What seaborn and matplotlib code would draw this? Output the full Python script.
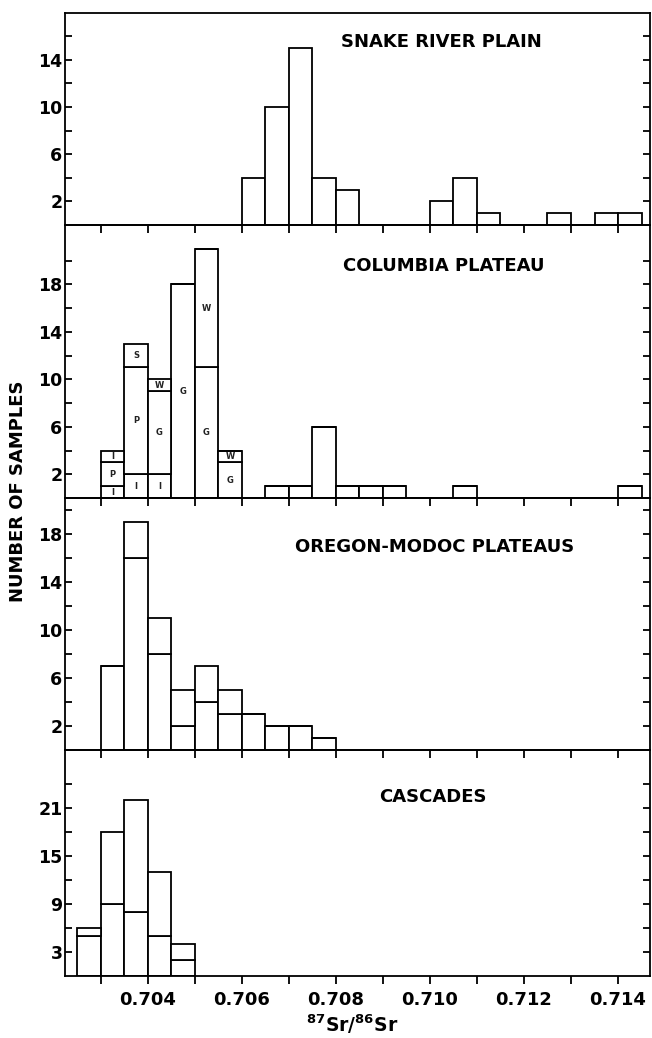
import numpy as np
import pandas as pd
import matplotlib
matplotlib.use("Agg")
import matplotlib.pyplot as plt
import seaborn as sns
from matplotlib.ticker import FixedLocator, NullFormatter, FixedFormatter

sns.set_theme(style="white")
plt.rcParams["font.family"] = ["DejaVu Sans"]
plt.rcParams["font.weight"] = "bold"
plt.rcParams["mathtext.fontset"] = "dejavusans"
plt.rcParams["text.color"] = "black"

BIN = 0.0005

# ---- Snake River Plain ----
snake_bins = [0.7060, 0.7065, 0.7070, 0.7075, 0.7080, 0.7100, 0.7105, 0.7110,
              0.7125, 0.7135, 0.7140]
snake_counts = [4, 10, 15, 4, 3, 2, 4, 1, 1, 1, 1]

# ---- Columbia Plateau (stacked by basalt unit) ----
col_bins = [0.7030, 0.7035, 0.7040, 0.7045, 0.7050, 0.7055, 0.7065, 0.7070,
            0.7075, 0.7080, 0.7085, 0.7090, 0.7105, 0.7140]
col_lower = [1, 2, 2, 18, 11, 3, 1, 1, 6, 1, 1, 1, 1, 1]
col_middle = [2, 9, 7, 0, 10, 1, 0, 0, 0, 0, 0, 0, 0, 0]
col_upper = [1, 2, 1, 0, 0, 0, 0, 0, 0, 0, 0, 0, 0, 0]
col_lower_unit = ["I", "I", "I", "G", "G", "G", "", "", "", "", "", "", "", ""]
col_middle_unit = ["P", "P", "G", "", "W", "W", "", "", "", "", "", "", "", ""]
col_upper_unit = ["I", "S", "W", "", "", "", "", "", "", "", "", "", "", ""]

# ---- Oregon-Modoc Plateaus ----
ore_bins = [0.7030, 0.7035, 0.7040, 0.7045, 0.7050, 0.7055, 0.7060, 0.7065,
            0.7070, 0.7075]
ore_lower = [7, 16, 8, 2, 4, 3, 3, 2, 2, 1]
ore_upper = [0, 3, 3, 3, 3, 2, 0, 0, 0, 0]

# ---- Cascades ----
cas_bins = [0.7025, 0.7030, 0.7035, 0.7040, 0.7045]
cas_lower = [5, 9, 8, 5, 2]
cas_upper = [1, 9, 14, 8, 2]

panel_titles = ["SNAKE RIVER PLAIN", "COLUMBIA PLATEAU",
                "OREGON-MODOC PLATEAUS", "CASCADES"]
x_ticks = [0.703, 0.704, 0.705, 0.706, 0.707, 0.708, 0.709, 0.710, 0.711,
           0.712, 0.713, 0.714]
x_ticklabels = ["", "0.704", "", "0.706", "", "0.708", "", "0.710", "",
                "0.712", "", "0.714"]

LW = 1.3
W, H = 652, 1038
fig = plt.figure(figsize=(W / 100, H / 100), dpi=100)
fig.patch.set_facecolor("white")

left_px, right_px = 64.5, 650.0
panel_px = [(12.7, 225.0), (225.0, 498.0), (498.0, 750.0), (750.0, 976.0)]
ylims = [18, 23, 21, 28.3]
xlim = (0.70223, 0.71468)


def make_ax(top, bottom):
    ax = fig.add_axes([left_px / W, 1 - bottom / H,
                       (right_px - left_px) / W, (bottom - top) / H])
    ax.patch.set_alpha(0)
    return ax


def stacked(ax, bins, layers):
    """Draw a stacked count histogram; layers listed bottom-to-top."""
    centers = np.round(np.array(bins) + BIN / 2, 6)
    frames = [pd.DataFrame({"sr": centers, "n": np.asarray(cnt, float),
                            "layer": name})
              for name, cnt in layers]
    df = pd.concat(frames, ignore_index=True)
    df = df[df["n"] > 0].reset_index(drop=True)
    lo, hi = min(bins), max(bins) + BIN
    order = [name for name, _ in layers][::-1]
    order = [o for o in order if o in set(df["layer"])]
    kws = dict(data=df, x="sr", weights="n", binwidth=BIN, binrange=(lo, hi),
               ax=ax, legend=False, alpha=1, edgecolor="black", linewidth=LW)
    if len(order) > 1:
        sns.histplot(hue="layer", hue_order=order, multiple="stack",
                     palette=["white"] * len(order), **kws)
    else:
        sns.histplot(color="white", **kws)


axes = [make_ax(t, b) for t, b in panel_px]

stacked(axes[0], snake_bins, [("all", snake_counts)])
stacked(axes[1], col_bins, [("lower", col_lower), ("middle", col_middle),
                            ("upper", col_upper)])
stacked(axes[2], ore_bins, [("lower", ore_lower), ("upper", ore_upper)])
stacked(axes[3], cas_bins, [("lower", cas_lower), ("upper", cas_upper)])

# unit letters inside the Columbia Plateau bars
base = np.zeros(len(col_bins))
for counts, units in [(col_lower, col_lower_unit), (col_middle, col_middle_unit),
                      (col_upper, col_upper_unit)]:
    for i, (c, u) in enumerate(zip(counts, units)):
        if c > 0 and u:
            axes[1].text(col_bins[i] + BIN / 2, base[i] + c / 2, u,
                         ha="center", va="center", fontsize=6,
                         fontweight="bold", color="#222222")
    base = base + np.array(counts)

# y tick layout: labelled and unlabelled ticks
y_major = [[2, 6, 10, 14], [2, 6, 10, 14, 18], [2, 6, 10, 14, 18], [3, 9, 15, 21]]
y_minor = [[4, 8, 12, 16], [4, 8, 12, 16, 20], [4, 8, 12, 16, 20], [6, 12, 18, 24]]
title_pos = [(0.643, 0.862), (0.648, 0.850), (0.633, 0.807), (0.629, 0.793)]

for k, ax in enumerate(axes):
    ax.set_xlim(*xlim)
    ax.set_ylim(0, ylims[k])
    for s in ax.spines.values():
        s.set_visible(True)
        s.set_color("black")
        s.set_linewidth(LW)
    ax.set_ylabel("")
    ax.set_xlabel("")
    ax.yaxis.set_major_locator(FixedLocator(y_major[k]))
    ax.yaxis.set_minor_locator(FixedLocator(y_minor[k]))
    ax.set_yticklabels([str(v) for v in y_major[k]])
    ax.tick_params(axis="y", which="both", direction="in", left=True,
                   right=True, length=5, width=LW, pad=1.5, labelsize=12.5,
                   colors="black")
    ax.xaxis.set_major_locator(FixedLocator(x_ticks))
    ax.tick_params(axis="x", which="both", direction="out", bottom=True,
                   top=False, length=6, width=LW, pad=5, labelsize=13,
                   colors="black")
    if k < 3:
        ax.xaxis.set_major_formatter(NullFormatter())
    else:
        ax.xaxis.set_major_formatter(FixedFormatter(x_ticklabels))
    for lab in ax.get_xticklabels() + ax.get_yticklabels():
        lab.set_fontweight("bold")
    ax.text(title_pos[k][0], title_pos[k][1], panel_titles[k],
            transform=ax.transAxes, ha="center", va="center",
            fontsize=13, fontweight="bold", color="black")
    ax.grid(False)

fig.text(18 / W, 1 - 491 / H, "NUMBER OF SAMPLES", rotation=90,
         ha="center", va="center", fontsize=13, fontweight="bold",
         color="black")
fig.text(352 / W, 1 - 1032 / H,
         r"$^{\mathbf{87}}\mathbf{Sr}/^{\mathbf{86}}\mathbf{Sr}$",
         ha="center", va="baseline", fontsize=13.5, color="black")

fig.savefig("out.png", dpi=100, facecolor="white")
